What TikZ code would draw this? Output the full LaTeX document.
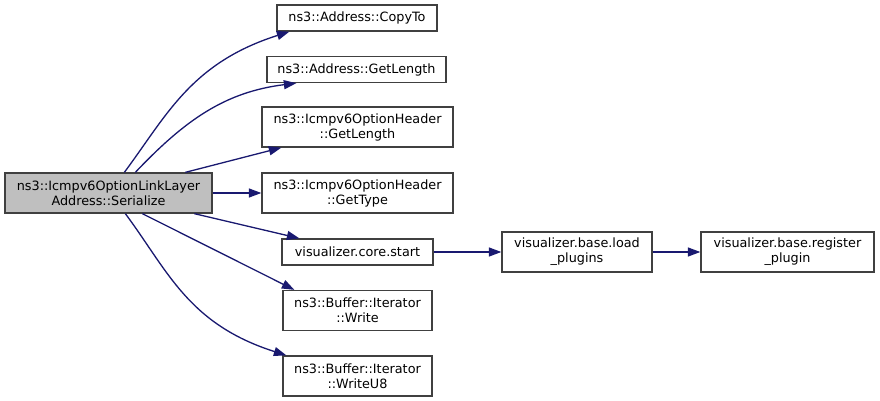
\documentclass[tikz,border=0pt]{standalone}
\usepackage{fontspec}
\setmainfont{DejaVu Sans}
\usetikzlibrary{arrows.meta}
\definecolor{edgec}{HTML}{191970}
\definecolor{mainfill}{HTML}{BFBFBF}
\definecolor{borderc}{HTML}{404040}
\begin{document}
\begin{tikzpicture}[x=1pt,y=-1pt,
  box/.style={draw=borderc, line width=1.3pt, fill=white, inner sep=0pt, align=center,
    font=\fontsize{12.8}{15}\selectfont, text=black},
  call/.style={draw=edgec, line width=1.3pt, -{Triangle[length=12.5pt,width=9pt]}},
]
\fill[white] (0,0) rectangle (880,401);
\useasboundingbox (0,0) rectangle (880,401);

\node[box, fill=mainfill, minimum width=207pt, minimum height=40pt] (main) at (108.5,193) {ns3::Icmpv6OptionLinkLayer\\Address::Serialize};
\node[box, minimum width=160pt, minimum height=26pt] (copyto) at (357,18) {ns3::Address::CopyTo};
\node[box, minimum width=179pt, minimum height=26pt] (alen) at (356.5,69.5) {ns3::Address::GetLength};
\node[box, minimum width=191pt, minimum height=40pt] (ihlen) at (357.5,127) {ns3::Icmpv6OptionHeader\\::GetLength};
\node[box, minimum width=191pt, minimum height=40pt] (ihtype) at (357.5,193) {ns3::Icmpv6OptionHeader\\::GetType};
\node[box, minimum width=151pt, minimum height=26pt] (start) at (357.5,252) {visualizer.core.start};
\node[box, minimum width=149pt, minimum height=40pt] (write) at (357.5,310.5) {ns3::Buffer::Iterator\\::Write};
\node[box, minimum width=149pt, minimum height=40pt] (writeu8) at (357.5,376) {ns3::Buffer::Iterator\\::WriteU8};
\node[box, minimum width=150pt, minimum height=40pt] (load) at (577,252) {visualizer.base.load\\\_plugins};
\node[box, minimum width=173pt, minimum height=40pt] (reg) at (787.5,252) {visualizer.base.register\\\_plugin};

\draw[call] ([xshift=120pt]main.north west) .. controls (167,115) and (191,63) .. ([xshift=13pt]copyto.south west);
\draw[call] ([xshift=131pt]main.north west) .. controls (185,120) and (225,92) .. ([xshift=30pt]alen.south west);
\draw[call] ([xshift=181pt]main.north west) -- ([xshift=20pt]ihlen.south west);
\draw[call] (main.east) -- (ihtype.west);
\draw[call] ([xshift=190pt]main.south west) -- ([xshift=18pt]start.north west);
\draw[call] ([xshift=138pt]main.south west) -- ([xshift=12pt]write.north west);
\draw[call] ([xshift=121pt]main.south west) .. controls (168,271) and (188,324) .. ([xshift=4pt]writeu8.north west);
\draw[call] (start.east) -- (load.west);
\draw[call] (load.east) -- (reg.west);
\end{tikzpicture}
\end{document}
